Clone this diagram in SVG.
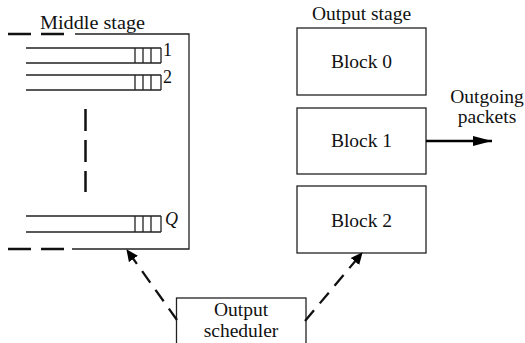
<svg xmlns="http://www.w3.org/2000/svg" width="525" height="343" viewBox="0 0 525 343">
<defs>
<marker id="ah" markerWidth="12" markerHeight="12" refX="11" refY="6" orient="auto" markerUnits="userSpaceOnUse">
<path d="M0,0.5 L12,6 L0,11.5 Z" fill="#000"/>
</marker>
<marker id="ah2" markerWidth="20" markerHeight="12" refX="19" refY="6" orient="auto" markerUnits="userSpaceOnUse">
<path d="M0,1 L19,6 L0,11 Z" fill="#000"/>
</marker>
</defs>
<style>
text{font-family:"Liberation Serif","Times New Roman",serif;fill:#111;font-size:19.5px}
.c{text-anchor:middle}
.box{fill:#fff;stroke:#222;stroke-width:1.3}
.ln{stroke:#222;stroke-width:1.3;fill:none}
.dash{stroke:#111;stroke-width:2.5;fill:none}
.n{font-size:18px}
</style>
<rect width="525" height="343" fill="#fff"/>
<g id="middle-stage">
<text x="40" y="29" textLength="105" lengthAdjust="spacingAndGlyphs">Middle stage</text>
<path class="dash" d="M8,34 H31 M41,34 H64"/>
<path class="ln" d="M75,34 H189 V249 H72"/>
<path class="dash" d="M8,249 H31 M41,249 H64"/>
<path class="dash" d="M85.5,109 V131 M85.5,140 V162 M85.5,171 V192"/>
<g id="queue-1">
<path class="ln" d="M26,48 H161 M26,63 H161 M135,48 V63 M143,48 V63 M151,48 V63 M161,48 V63"/>
<text class="n" x="163" y="56">1</text>
</g>
<g id="queue-2">
<path class="ln" d="M26,75 H161 M26,90 H161 M135,75 V90 M143,75 V90 M151,75 V90 M161,75 V90"/>
<text class="n" x="163" y="83">2</text>
</g>
<g id="queue-Q">
<path class="ln" d="M26,216 H161 M26,232 H161 M135,216 V232 M143,216 V232 M151,216 V232 M161,216 V232"/>
<text class="n" x="165" y="225" style="font-style:italic">Q</text>
</g>
</g>
<g id="output-stage">
<text class="c" x="361.5" y="20">Output stage</text>
</g>
<g id="block0">
<rect class="box" x="297" y="28" width="129" height="67"/>
<text class="c" x="361.5" y="68">Block 0</text>
</g>
<g id="block1">
<rect class="box" x="297" y="108" width="129" height="66"/>
<text class="c" x="361.5" y="147">Block 1</text>
</g>
<g id="block2">
<rect class="box" x="297" y="186" width="129" height="67"/>
<text class="c" x="361.5" y="227">Block 2</text>
</g>
<g id="scheduler">
<rect class="box" x="176.5" y="298" width="129.5" height="50"/>
<text class="c" x="241" y="316">Output</text>
<text class="c" x="241" y="337">scheduler</text>
</g>
<g id="outgoing-label">
<text class="c" x="487" y="103">Outgoing</text>
<text class="c" x="487" y="123">packets</text>
</g>
<g id="connectors">
<line x1="426" y1="141" x2="492" y2="141" stroke="#000" stroke-width="2.5" marker-end="url(#ah2)"/>
<line x1="177" y1="320" x2="127" y2="250" stroke="#111" stroke-width="2.3" stroke-dasharray="14,9" marker-end="url(#ah)"/>
<line x1="305" y1="321" x2="362" y2="253" stroke="#111" stroke-width="2.3" stroke-dasharray="14,9" marker-end="url(#ah)"/>
</g>
</svg>
